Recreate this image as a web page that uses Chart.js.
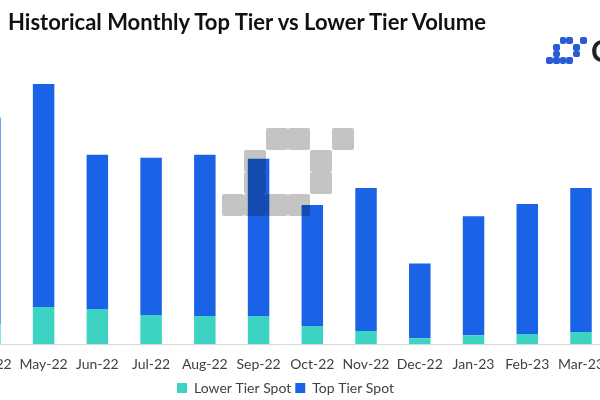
<!DOCTYPE html>
<html lang="en">
<head>
    <meta charset="UTF-8">
    <script src="https://cdn.jsdelivr.net/npm/chart.js"></script>
    <title>Top Tier vs Lower Tier Volume</title>
    <style>
        html, body { margin: 0; padding: 0; width: 600px; height: 400px; overflow: hidden; background: #fff; }
        .titulo { position: absolute; left: 8px; top: 8px; font: bold 22px Lato, sans-serif; color: #111; white-space: nowrap; }
        .marca { position: absolute; left: 591px; top: 32px; font: bold 30px Lato, sans-serif; color: #222; }
        .grafico { position: absolute; left: -37px; top: 0; width: 645px; height: 405px; }
        .px { position: absolute; border-radius: 2px; }
    </style>
</head>
<body>
<div class="grafico"><canvas id="Volume"></canvas></div>
<div class="titulo">Historical Monthly Top Tier vs Lower Tier Volume</div>
<div class="marca">C</div>
<div id="desenhos"></div>

<script>
    // values (relative units, no y axis shown)
    const meses = ['Apr-22', 'May-22', 'Jun-22', 'Jul-22', 'Aug-22', 'Sep-22', 'Oct-22', 'Nov-22', 'Dec-22', 'Jan-23', 'Feb-23', 'Mar-23'];
    const lowerTier = [20, 37, 35, 29, 28, 28, 18, 13, 6, 9, 10, 12];
    const topTier = [205, 221, 153, 156, 160, 156, 120, 142, 74, 118, 129, 143];

    const ctx_Vol = document.getElementById('Volume');

    new Chart(ctx_Vol, {
      type: 'bar',
      data: {
        labels: meses,
        datasets: [{
          label: 'Lower Tier Spot',
          data: lowerTier,
          backgroundColor: '#3dd3c3',
          categoryPercentage: 1,
          barPercentage: 0.4
        }, {
          label: 'Top Tier Spot',
          data: topTier,
          backgroundColor: '#1b63e6',
          categoryPercentage: 1,
          barPercentage: 0.4
        }]
      },
      options: {
        responsive: true,
        maintainAspectRatio: false,
        animation: false,
        layout: { padding: { top: 70, bottom: 0 } },
        scales: {
          x: {
            stacked: true,
            grid: { display: false },
            border: { color: '#d9d9d9', width: 1 },
            ticks: { color: '#404040', font: { family: 'Lato', size: 14 }, maxRotation: 0, padding: 4 }
          },
          y: {
            stacked: true,
            min: 0,
            max: 272,
            display: false
          }
        },
        plugins: {
          legend: {
            position: 'bottom',
            labels: { boxWidth: 10, boxHeight: 10, color: '#404040', font: { family: 'Lato', size: 14 }, padding: 4 }
          },
          tooltip: { enabled: false }
        }
      }
    });

    // watermark and logo: same pixel pattern
    const padrao = ['..XX.X', '.X..X.', '.X..X.', 'XXXX..'];
    function desenhaPadrao(x0, y0, lado, folga, cor, mistura) {
      const alvo = document.getElementById('desenhos');
      padrao.forEach(function (linha, r) {
        for (let c = 0; c < linha.length; c++) {
          if (linha[c] !== 'X') continue;
          const d = document.createElement('div');
          d.className = 'px';
          d.style.left = (x0 + c * lado) + 'px';
          d.style.top = (y0 + r * lado) + 'px';
          d.style.width = (lado - folga) + 'px';
          d.style.height = (lado - folga) + 'px';
          d.style.background = cor;
          if (mistura) d.style.mixBlendMode = 'multiply';
          alvo.appendChild(d);
        }
      });
    }
    desenhaPadrao(222, 128, 22, 0, '#c4c4c4', true);
    desenhaPadrao(546, 37, 6.8, 0, '#2a5bd7', false);
</script>
</body>
</html>
